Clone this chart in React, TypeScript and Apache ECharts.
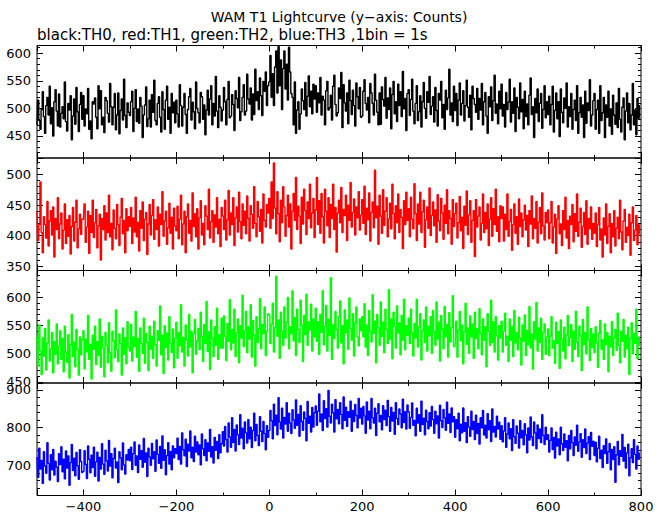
import React, { useEffect, useRef } from "react";
import * as echarts from "echarts";

// ---- data (counts per bin; bins start at t = -500 s) ----
const tStart = -500;
const binSec = 2.5;

const th0Counts = [
  470, 515, 478, 462, 498, 530, 485, 455, 505, 520, 488, 540, 472, 501, 450, 512, 534, 495, 468, 526, 466, 491, 503, 481, 548, 476, 459, 509, 497, 523, 443, 486, 517, 471, 538, 494, 458, 507, 529, 480,
  523, 468, 499, 490, 536, 462, 477, 445, 512, 508, 519, 484, 463, 541, 499, 532, 470, 484, 456, 520, 514, 491, 475, 545, 503, 470, 502, 527, 461, 488, 528, 454, 496, 517, 479, 553, 487, 465, 510, 493,
  487, 512, 531, 458, 500, 534, 476, 499, 473, 520, 504, 447, 488, 506, 539, 467, 481, 515, 466, 525, 493, 551, 478, 470, 509, 521, 484, 457, 530, 498, 462, 515, 540, 480, 502, 455, 527, 492, 511, 474,
  515, 490, 466, 543, 505, 468, 502, 527, 489, 455, 498, 521, 536, 479, 511, 494, 463, 548, 500, 492, 474, 529, 521, 480, 506, 452, 497, 533, 488, 517, 541, 470, 509, 486, 558, 495, 465, 523, 502, 477,
  497, 538, 512, 470, 516, 549, 483, 486, 525, 507, 460, 532, 518, 501, 556, 478, 494, 520, 543, 488, 495, 562, 517, 508, 537, 479, 526, 489, 571, 514, 530, 498, 555, 523, 487, 549, 531, 566, 505, 541,
  548, 596, 520, 563, 505, 575, 604, 528, 612, 541, 588, 498, 572, 604, 535, 580, 515, 611, 566, 527, 520, 470, 548, 455, 497, 512, 462, 490, 535, 514, 498, 547, 486, 522, 559, 503, 531, 490, 544, 517,
  541, 493, 528, 510, 556, 488, 522, 515, 470, 532, 549, 497, 501, 524, 479, 540, 560, 507, 486, 492, 537, 518, 565, 465, 543, 510, 495, 528, 472, 551, 514, 489, 533, 505, 468, 546, 521, 499, 538, 484,
  486, 531, 552, 509, 497, 520, 474, 545, 528, 509, 488, 562, 515, 493, 470, 528, 471, 539, 516, 504, 556, 482, 519, 498, 537, 463, 525, 549, 490, 512, 476, 544, 505, 530, 485, 567, 499, 518, 460, 527,
  534, 487, 516, 553, 495, 472, 509, 541, 478, 494, 523, 466, 512, 547, 500, 482, 530, 511, 558, 489, 504, 521, 475, 538, 496, 468, 527, 515, 549, 483, 507, 462, 533, 498, 519, 571, 488, 510, 476, 540,
  496, 527, 469, 515, 546, 488, 509, 532, 477, 505, 551, 502, 484, 524, 461, 540, 518, 507, 493, 536, 480, 518, 497, 545, 470, 512, 529, 486, 455, 521, 503, 539, 478, 514, 560, 491, 508, 472, 531, 499,
  544, 486, 507, 466, 529, 498, 511, 553, 475, 512, 491, 537, 458, 520, 502, 481, 546, 494, 516, 463, 531, 485, 508, 470, 524, 555, 489, 503, 447, 518, 492, 535, 476, 509, 527, 464, 498, 541, 483, 512,
  489, 522, 470, 507, 540, 457, 496, 528, 481, 512, 449, 535, 493, 474, 519, 500, 546, 466, 503, 485, 527, 462, 498, 515, 478, 541, 455, 492, 520, 484, 506, 447, 531, 473, 510, 496, 552, 468, 488, 514,
  527, 462, 498, 515, 455, 541, 478, 492, 520, 447, 506, 484, 531, 468, 499, 453, 524, 488, 471, 510, 465, 536, 480, 457, 502, 519, 443, 495, 528, 474, 509, 461, 488, 545, 470, 497, 452, 518, 482, 506,
];

const th1Counts = [
  440, 392, 418, 488, 405, 372, 431, 418, 396, 456, 383, 424, 441, 401, 447, 365, 428, 410, 462, 395, 419, 437, 378, 409, 452, 387, 426, 399, 433, 370, 415, 446, 391, 422, 458, 380, 411, 435, 402, 427,
  426, 452, 389, 414, 440, 371, 433, 405, 458, 397, 421, 443, 380, 416, 435, 360, 428, 410, 449, 393, 437, 405, 466, 398, 420, 377, 442, 412, 395, 451, 418, 384, 430, 461, 403, 425, 372, 444, 408, 431,
  415, 446, 387, 429, 406, 463, 398, 422, 375, 441, 412, 455, 392, 427, 438, 369, 419, 451, 401, 433, 459, 394, 426, 410, 447, 383, 435, 418, 472, 399, 424, 440, 386, 413, 453, 404, 430, 378, 445, 416,
  408, 448, 395, 427, 466, 385, 419, 440, 372, 431, 452, 404, 425, 391, 470, 415, 436, 398, 444, 378, 429, 457, 401, 420, 385, 449, 432, 410, 476, 396, 423, 441, 389, 434, 414, 462, 403, 427, 382, 446,
  432, 410, 458, 393, 426, 474, 401, 437, 418, 462, 384, 429, 447, 406, 471, 423, 395, 452, 417, 440, 403, 465, 428, 391, 449, 435, 412, 480, 420, 398, 456, 431, 407, 443, 388, 468, 425, 414, 451, 437,
  461, 412, 488, 428, 519, 445, 403, 472, 436, 390, 458, 421, 480, 447, 399, 433, 466, 414, 452, 378, 440, 469, 425, 495, 410, 448, 432, 387, 463, 419, 476, 441, 402, 455, 428, 484, 413, 437, 461, 397,
  442, 495, 418, 457, 404, 469, 431, 388, 476, 440, 416, 462, 397, 451, 428, 484, 410, 446, 373, 437, 458, 421, 479, 405, 443, 433, 466, 392, 450, 425, 487, 414, 438, 460, 401, 447, 429, 472, 409, 434,
  459, 420, 481, 402, 445, 426, 470, 391, 438, 455, 413, 507, 429, 448, 386, 466, 432, 404, 475, 417, 440, 462, 398, 427, 453, 411, 484, 436, 395, 449, 421, 468, 405, 443, 430, 379, 457, 418, 471, 425,
  444, 398, 463, 427, 411, 485, 436, 392, 452, 419, 471, 405, 439, 458, 381, 426, 447, 412, 478, 400, 433, 455, 416, 442, 389, 467, 424, 408, 461, 437, 394, 450, 420, 475, 403, 441, 428, 386, 459, 415,
  436, 453, 396, 421, 464, 408, 430, 379, 448, 417, 473, 402, 434, 457, 389, 425, 441, 366, 459, 414, 432, 447, 393, 420, 468, 405, 438, 411, 452, 384, 427, 462, 399, 444, 418, 476, 407, 431, 390, 449,
  428, 447, 391, 435, 410, 468, 399, 423, 443, 376, 418, 452, 404, 431, 386, 460, 415, 437, 398, 426, 450, 409, 433, 382, 441, 419, 465, 395, 428, 412, 456, 388, 422, 446, 403, 470, 416, 393, 438, 421,
  442, 395, 421, 456, 388, 414, 435, 371, 427, 449, 403, 419, 384, 441, 410, 463, 396, 425, 379, 432, 418, 451, 390, 436, 407, 468, 399, 422, 445, 381, 415, 438, 402, 457, 386, 428, 411, 447, 394, 420,
  404, 437, 382, 418, 446, 393, 411, 365, 429, 401, 452, 387, 415, 436, 372, 420, 398, 441, 383, 412, 430, 395, 458, 406, 377, 424, 443, 389, 414, 400, 435, 368, 421, 447, 392, 409, 433, 385, 418, 402,
];

const th2Counts = [
  532, 478, 551, 505, 463, 528, 496, 545, 471, 519, 560, 487, 509, 538, 466, 522, 499, 553, 482, 514, 541, 490, 527, 468, 549, 503, 485, 534, 457, 516, 570, 495, 521, 477, 543, 508, 462, 530, 498, 525,
  541, 473, 526, 503, 568, 490, 517, 455, 533, 508, 549, 481, 522, 497, 562, 476, 531, 510, 459, 538, 515, 484, 555, 502, 469, 540, 523, 493, 578, 507, 486, 535, 518, 462, 546, 499, 529, 482, 557, 512,
  505, 552, 487, 530, 513, 575, 494, 527, 469, 546, 518, 501, 563, 483, 536, 520, 470, 549, 508, 531, 492, 558, 516, 478, 541, 524, 585, 498, 533, 465, 550, 511, 537, 489, 566, 519, 502, 544, 475, 528,
  556, 492, 538, 514, 587, 503, 529, 478, 551, 525, 496, 570, 512, 540, 466, 535, 561, 499, 523, 545, 507, 574, 531, 486, 552, 518, 593, 504, 539, 472, 560, 527, 495, 548, 515, 581, 490, 534, 510, 563,
  510, 567, 531, 488, 554, 522, 596, 507, 543, 519, 579, 495, 537, 562, 484, 550, 528, 604, 513, 541, 575, 502, 548, 526, 587, 494, 559, 533, 478, 566, 520, 545, 598, 509, 552, 536, 583, 497, 540, 571,
  569, 518, 552, 590, 503, 547, 638, 531, 560, 492, 574, 540, 515, 583, 528, 556, 600, 509, 548, 536, 612, 523, 564, 497, 579, 543, 520, 595, 551, 486, 568, 534, 606, 515, 557, 542, 588, 505, 562, 530,
  581, 522, 557, 499, 570, 538, 612, 516, 549, 586, 505, 561, 533, 635, 490, 552, 527, 575, 543, 510, 566, 594, 519, 550, 482, 578, 537, 560, 508, 599, 545, 524, 571, 496, 555, 583, 530, 514, 562, 541,
  566, 530, 589, 512, 551, 497, 577, 540, 521, 605, 536, 558, 484, 570, 546, 515, 592, 531, 556, 502, 579, 543, 518, 614, 526, 562, 491, 574, 549, 510, 585, 537, 555, 498, 568, 524, 597, 507, 550, 533,
  563, 518, 579, 537, 496, 554, 528, 597, 512, 547, 571, 489, 541, 560, 520, 583, 505, 549, 532, 566, 501, 577, 539, 515, 592, 526, 556, 487, 568, 544, 509, 584, 530, 552, 494, 573, 521, 546, 603, 513,
  514, 558, 494, 542, 575, 523, 551, 482, 539, 590, 517, 546, 501, 567, 530, 553, 492, 574, 527, 545, 509, 580, 536, 498, 562, 524, 548, 477, 571, 540, 515, 595, 520, 557, 503, 566, 532, 489, 550, 528,
  558, 503, 540, 572, 515, 531, 486, 562, 524, 549, 495, 577, 519, 538, 507, 565, 528, 480, 551, 522, 569, 497, 542, 516, 584, 510, 535, 473, 557, 526, 591, 505, 546, 520, 563, 490, 538, 553, 499, 530,
  544, 497, 531, 566, 510, 523, 483, 556, 518, 539, 474, 560, 526, 505, 547, 491, 533, 568, 514, 529, 552, 486, 540, 508, 575, 521, 495, 549, 532, 470, 561, 517, 538, 500, 583, 525, 488, 545, 511, 535,
  502, 548, 519, 476, 537, 559, 508, 525, 490, 553, 516, 538, 468, 531, 512, 557, 497, 528, 543, 506, 572, 515, 484, 540, 522, 561, 494, 533, 509, 547, 463, 527, 555, 500, 536, 518, 579, 491, 530, 514,
];

const th3Counts = [
  722, 668, 745, 690, 713, 652, 736, 698, 679, 760, 705, 661, 728, 688, 742, 674, 711, 695, 657, 731, 702, 749, 683, 716, 664, 738, 693, 725, 647, 707, 755, 686, 719, 672, 734, 699, 663, 741, 710, 681,
  684, 739, 702, 665, 751, 716, 680, 727, 694, 748, 671, 709, 735, 658, 721, 690, 757, 703, 676, 740, 712, 685, 766, 698, 731, 667, 718, 745, 693, 709, 654, 736, 720, 688, 759, 701, 677, 728, 714, 742,
  712, 748, 689, 731, 762, 700, 725, 681, 754, 716, 739, 695, 771, 708, 733, 670, 745, 722, 700, 758, 717, 736, 684, 767, 729, 705, 750, 692, 778, 713, 741, 675, 726, 760, 703, 737, 688, 751, 720, 744,
  731, 772, 715, 750, 703, 786, 741, 725, 769, 697, 756, 738, 791, 720, 748, 710, 777, 735, 762, 728, 754, 701, 783, 744, 726, 768, 712, 759, 737, 795, 722, 749, 706, 774, 740, 763, 718, 781, 733, 757,
  789, 751, 803, 768, 735, 812, 775, 748, 826, 760, 795, 738, 807, 781, 755, 834, 772, 798, 744, 815, 786, 759, 821, 770, 801, 747, 792, 838, 765, 808, 779, 752, 829, 790, 763, 816, 784, 741, 805, 774,
  792, 845, 818, 770, 862, 805, 833, 781, 879, 815, 796, 851, 772, 827, 809, 866, 790, 838, 812, 784, 847, 820, 798, 873, 806, 835, 777, 858, 816, 793, 841, 824, 765, 869, 811, 830, 788, 853, 801, 839,
  857, 806, 843, 889, 815, 836, 792, 871, 824, 850, 801, 898, 830, 812, 862, 839, 788, 874, 823, 848, 810, 866, 835, 797, 881, 819, 854, 803, 842, 827, 870, 790, 845, 816, 861, 832, 799, 877, 825, 851,
  809, 856, 831, 785, 868, 820, 843, 797, 877, 826, 812, 851, 779, 838, 863, 815, 832, 794, 858, 821, 846, 805, 872, 829, 790, 853, 817, 840, 782, 866, 824, 808, 849, 836, 799, 875, 813, 842, 796, 860,
  842, 798, 827, 865, 806, 819, 778, 851, 812, 834, 790, 870, 808, 825, 781, 846, 816, 797, 839, 804, 856, 821, 785, 843, 810, 831, 772, 859, 818, 800, 848, 826, 793, 867, 811, 836, 787, 852, 815, 829,
  774, 821, 797, 838, 765, 809, 786, 852, 790, 813, 760, 829, 801, 777, 843, 795, 816, 768, 833, 784, 811, 756, 826, 799, 845, 780, 806, 772, 837, 794, 818, 763, 849, 788, 803, 775, 830, 796, 814, 769,
  805, 762, 791, 826, 748, 783, 812, 770, 797, 739, 821, 776, 758, 804, 785, 746, 818, 773, 792, 754, 810, 781, 733, 799, 767, 828, 775, 752, 815, 786, 744, 807, 771, 796, 760, 834, 779, 755, 801, 768,
  781, 735, 766, 799, 742, 774, 719, 788, 751, 770, 728, 801, 757, 739, 783, 748, 765, 712, 779, 744, 792, 760, 726, 775, 753, 806, 737, 762, 784, 721, 768, 747, 796, 731, 759, 776, 715, 787, 750, 764,
  726, 761, 709, 745, 777, 718, 740, 694, 752, 731, 770, 705, 736, 758, 688, 742, 715, 749, 655, 728, 763, 701, 739, 724, 782, 711, 747, 693, 733, 756, 672, 720, 744, 707, 768, 729, 690, 751, 716, 734,
];

const xRange = [-500, 800];
const xMajorStep = 200;
const xMinorStep = 100;

const titleText = "WAM T1 Lightcurve (y\u2212axis: Counts)";
const subtitleText = "black:TH0, red:TH1, green:TH2, blue:TH3 ,1bin = 1s";

const channels = [
  { name: "TH0", values: th0Counts, yRange: [410, 614], major: 50, minor: 10 },
  { name: "TH1", values: th1Counts, yRange: [343, 527], major: 50, minor: 10 },
  { name: "TH2", values: th2Counts, yRange: [448, 648], major: 50, minor: 10 },
  { name: "TH3", values: th3Counts, yRange: [620, 918], major: 100, minor: 20 },
];

// ---- styling / layout ----
const colors = ["#000000", "#ff0000", "#00ff00", "#0000ff"];
const W = 665;
const H = 515;
const plotLeft = 37;
const plotRight = 641;
const plotTop = 45.5;
const panelH = 112.5;
const FONT = "DejaVu Sans";
const tickFontSize = 13;
const titleFontSize = 14;
const subtitleFontSize = 15;
const traceWidth = 1.4;

const minus = (v: number) => (v < 0 ? "\u2212" + Math.abs(v) : String(v));

function buildOption() {
  const grids: any[] = [];
  const xAxes: any[] = [];
  const yAxes: any[] = [];
  const series: any[] = [];

  channels.forEach((ch, i) => {
    grids.push({
      left: plotLeft,
      width: plotRight - plotLeft,
      top: plotTop + panelH * i,
      height: panelH,
      show: true,
      borderColor: "#000",
      borderWidth: 1,
      backgroundColor: "transparent",
      containLabel: false,
    });

    const baseX = {
      gridIndex: i,
      type: "value",
      min: xRange[0],
      max: xRange[1],
      axisLine: { show: false, onZero: false },
      splitLine: { show: false },
    };
    const isBottom = i === channels.length - 1;
    ["bottom", "top"].forEach((pos) => {
      xAxes.push({
        ...baseX,
        position: pos,
        splitNumber: Math.round((xRange[1] - xRange[0]) / xMajorStep),
        axisTick: { show: true, inside: true, length: 6, lineStyle: { color: "#000", width: 1 } },
        axisLabel: {
          show: pos === "bottom" && isBottom,
          margin: 4,
          color: "#000",
          fontFamily: FONT,
          fontSize: tickFontSize,
          formatter: (v: number) => (v % xMajorStep === 0 && v > xRange[0] ? minus(v) : ""),
        },
      });
      xAxes.push({
        ...baseX,
        position: pos,
        interval: xMinorStep,
        axisTick: { show: true, inside: true, length: 3, lineStyle: { color: "#000", width: 1 } },
        axisLabel: { show: false },
      });
    });

    const span = ch.yRange[1] - ch.yRange[0];
    const baseY = {
      gridIndex: i,
      type: "value",
      min: ch.yRange[0],
      max: ch.yRange[1],
      axisLine: { show: false, onZero: false },
      splitLine: { show: false },
    };
    ["left", "right"].forEach((pos) => {
      yAxes.push({
        ...baseY,
        position: pos,
        splitNumber: Math.round(span / ch.major),
        axisTick: { show: true, inside: true, length: 6, lineStyle: { color: "#000", width: 1 } },
        axisLabel: {
          show: pos === "left",
          margin: 6,
          color: "#000",
          fontFamily: FONT,
          fontSize: tickFontSize,
          formatter: (v: number) => (v % ch.major === 0 ? String(v) : ""),
        },
      });
      yAxes.push({
        ...baseY,
        position: pos,
        splitNumber: Math.round(span / ch.minor),
        axisTick: { show: true, inside: true, length: 3, lineStyle: { color: "#000", width: 1 } },
        axisLabel: { show: false },
      });
    });

    series.push({
      type: "line",
      name: ch.name,
      xAxisIndex: 4 * i,
      yAxisIndex: 4 * i,
      data: ch.values.map((v, k) => [tStart + k * binSec, v]),
      step: "middle",
      showSymbol: false,
      symbol: "none",
      silent: true,
      clip: true,
      lineStyle: { color: colors[i], width: traceWidth },
      itemStyle: { color: colors[i] },
    });
  });

  return {
    animation: false,
    backgroundColor: "#fff",
    grid: grids,
    xAxis: xAxes,
    yAxis: yAxes,
    series,
    graphic: [
      {
        type: "text",
        x: (plotLeft + plotRight) / 2,
        y: 17,
        style: {
          text: titleText,
          fill: "#000",
          font: `${titleFontSize}px "${FONT}"`,
          textAlign: "center",
          textVerticalAlign: "middle",
        },
      },
      {
        type: "text",
        x: plotLeft,
        y: 35,
        style: {
          text: subtitleText,
          fill: "#000",
          font: `${subtitleFontSize}px "${FONT}"`,
          textAlign: "left",
          textVerticalAlign: "middle",
        },
      },
    ],
  };
}

export default function App() {
  const ref = useRef<HTMLDivElement>(null);
  useEffect(() => {
    if (!ref.current) return;
    const chart = echarts.init(ref.current, undefined, { renderer: "svg" });
    chart.setOption(buildOption() as any);
    return () => chart.dispose();
  }, []);
  return (
    <div
      ref={ref}
      style={{ position: "fixed", left: 0, top: 0, width: W, height: H, background: "#fff" }}
    />
  );
}
